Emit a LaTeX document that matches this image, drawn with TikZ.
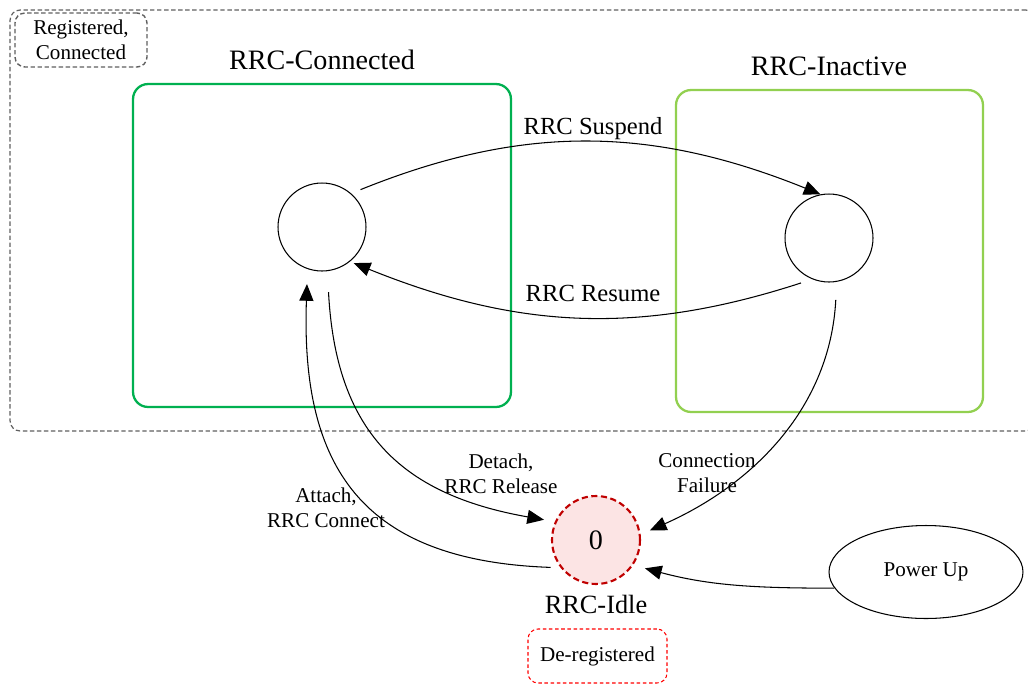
\documentclass[tikz,border=0pt]{standalone}
\usepackage{fontspec}
\setmainfont{Liberation Serif}
\usetikzlibrary{arrows.meta,shapes.geometric}
\definecolor{cgreen}{HTML}{00B050}
\definecolor{lgreen}{HTML}{92D050}
\definecolor{dred}{HTML}{C00000}
\definecolor{pinkfill}{HTML}{FCE4E4}
\definecolor{dgray}{HTML}{606060}
\definecolor{brred}{HTML}{FF0000}
\begin{document}
\begin{tikzpicture}[x=0.02cm,y=-0.02cm,
  state/.style={circle, draw, line width=0.6pt, minimum size=1.76cm, inner sep=0pt},
  region/.style={draw, rounded corners=0.3cm, line width=1.3pt, inner sep=0pt},
  tagbox/.style={draw, rounded corners=0.2cm, align=center, inner sep=0pt,
    font=\fontsize{12}{14}\selectfont},
  titletxt/.style={font=\fontsize{16}{19}\selectfont},
  translab/.style={font=\fontsize{14}{17}\selectfont},
  smalllab/.style={font=\fontsize{12}{14}\selectfont, align=center},
  trans/.style={-{Triangle[length=9.5pt,width=8pt]}, line width=0.6pt}]
\useasboundingbox (0,0) rectangle (1028,684);

% outer registered area
\node[draw=dgray, dash pattern=on 2.5pt off 1.5pt, line width=0.7pt, rounded corners=0.2cm,
  minimum width=20.52cm, minimum height=8.42cm, inner sep=0pt] (regarea) at (523,220.5) {};
\node[tagbox, draw=dgray, dash pattern=on 2.5pt off 1.5pt, line width=0.8pt,
  minimum width=2.64cm, minimum height=1.08cm] (regtag) at (81,40) {Registered,\\Connected};

% state regions
\node[region, draw=cgreen, minimum width=7.56cm, minimum height=6.46cm] (conbox) at (322,245.5) {};
\node[region, draw=lgreen, minimum width=6.14cm, minimum height=6.44cm] (inabox) at (829.5,251) {};
\node[titletxt] (contitle) at (322,60) {RRC-Connected};
\node[titletxt] (inatitle) at (829,66) {RRC-Inactive};

% states
\node[state] (con) at (322,227) {};
\node[state] (ina) at (829,238) {};
\node[state, draw=dred, fill=pinkfill, line width=1.2pt, dash pattern=on 3.5pt off 2pt,
  font=\fontsize{16}{19}\selectfont] (idle) at (596,540) {0};
\node[font=\fontsize{15}{18}\selectfont] (idletitle) at (596,604) {RRC-Idle};
\node[tagbox, draw=brred, dash pattern=on 2pt off 1.5pt, line width=0.6pt,
  minimum width=2.78cm, minimum height=1.08cm] (deregtag) at (597.5,656) {De-registered};
\node[ellipse, draw, line width=0.6pt, minimum width=3.88cm, minimum height=1.86cm,
  inner sep=0pt, smalllab] (pu) at (926,572) {Power Up};

% transitions
\draw[trans, shorten <=0.2cm] (con.49.5) to[out=22,in=158] (ina.101.8);
\draw[trans, shorten <=0.24cm, shorten >=0.08cm] (ina.-112.9) to[out=-162,in=-22] (con.-51.7);
\draw[trans, shorten <=0.42cm, shorten >=0.22cm] (con.-83.9) to[out=-87,in=170,looseness=1.2] (idle.156.7);
\draw[trans, shorten <=0.2cm, shorten >=0.3cm] (idle.-142.5) to[out=178,in=-92,looseness=1.3] (con.-109.7);
\draw[trans, shorten <=0.36cm, shorten >=0.2cm] (ina.-80.7) to[out=-93,in=24] (idle.7.4);
\draw[trans, shorten >=0.24cm] (pu.190) to[out=180,in=-15] (idle.-34.8);

% labels
\node[translab] (suslab) at (593,129) {RRC Suspend};
\node[translab] (reslab) at (593,293) {RRC Resume};
\node[smalllab] (detlab) at (501,474) {Detach,\\RRC Release};
\node[smalllab] (attlab) at (326,508) {Attach,\\RRC Connect};
\node[smalllab] (faillab) at (707,473) {Connection\\Failure};
\end{tikzpicture}
\end{document}
